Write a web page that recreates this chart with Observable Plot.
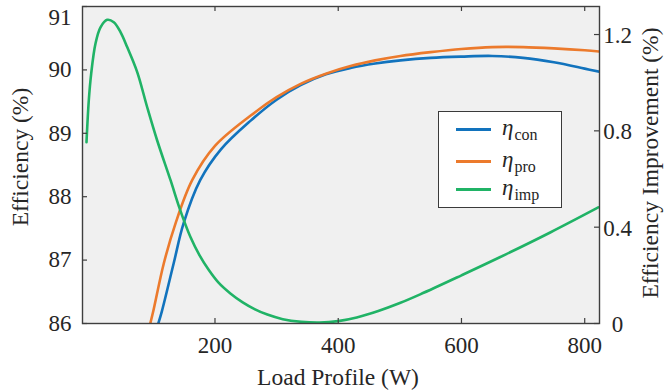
<!DOCTYPE html>
<html>
<head>
<meta charset="utf-8">
<script src="https://cdn.jsdelivr.net/npm/d3@7"></script>
<script src="https://cdn.jsdelivr.net/npm/@observablehq/plot@0.6"></script>
<style>
  html, body { margin: 0; padding: 0; background: #fff; }
  #chart { position: relative; width: 667px; height: 392px; font-family: "Liberation Serif", "Times New Roman", serif; color: #262626; }
  #chart svg { display: block; }
  .legend { position: absolute; left: 438px; top: 111px; width: 122px; height: 95px; background: #fff; border: 1.3px solid #3a3a3a; }
  .legend .row { position: absolute; left: 0; height: 30px; width: 122px; }
  .legend .sw { position: absolute; left: 17px; width: 35px; height: 2.6px; }
  .legend .lab { position: absolute; left: 63px; font-size: 23px; line-height: 1; white-space: nowrap; }
  .legend .lab i { font-style: italic; }
  .legend .lab sub { font-size: 16px; vertical-align: -5px; margin-left: 1px; }
</style>
</head>
<body>
<div id="chart"></div>
<script>
// Load profile sweep (W) and efficiencies (%) for the conventional and proposed designs
const loadCon = [108, 114, 133, 149, 176, 210, 258, 300, 339, 380, 420, 460, 501, 550, 600, 650, 700, 750, 800, 824];
const effCon  = [86.0, 86.2, 86.95, 87.58, 88.26, 88.75, 89.2, 89.53, 89.76, 89.93, 90.03, 90.1, 90.15, 90.19, 90.21, 90.22, 90.19, 90.12, 90.02, 89.97];

const loadPro = [95, 100, 117, 136, 163, 200, 258, 300, 339, 380, 420, 460, 501, 550, 600, 650, 700, 750, 800, 824];
const effPro  = [86.0, 86.2, 86.95, 87.58, 88.26, 88.8, 89.28, 89.57, 89.78, 89.94, 90.06, 90.15, 90.22, 90.28, 90.33, 90.36, 90.36, 90.34, 90.31, 90.29];

// Efficiency improvement (percentage points), read against the right-hand axis
const loadImp = [-8.5, -4.8, -0.9, 6.1, 14.2, 25.1, 35.8, 46.7, 57.5, 73.8, 90, 106.2, 128, 143, 160, 175, 190, 205, 225, 245, 265, 285, 310, 340, 370, 400, 430, 465, 500, 533, 600, 663, 744, 822];
const effImp  = [0.753, 0.926, 1.038, 1.163, 1.23, 1.261, 1.251, 1.21, 1.148, 1.044, 0.898, 0.76, 0.594, 0.475, 0.36, 0.283, 0.222, 0.172, 0.125, 0.088, 0.059, 0.037, 0.018, 0.007, 0.004, 0.01, 0.025, 0.052, 0.085, 0.121, 0.2, 0.276, 0.378, 0.482];

// Axis ticks
const xTicks = [200, 400, 600, 800];
const leftTicks = [86, 87, 88, 89, 90, 91];
const rightTicks = [0, 0.4, 0.8, 1.2];

const seriesNames = ["con", "pro", "imp"];
const seriesColors = ["#1273bd", "#ec7a2c", "#20b366"];

// Left and right y ranges share one vertical scale
const leftMin = 86, leftMax = 91, rightMax = 1.3164;
const toLeft = r => leftMin + r * (leftMax - leftMin) / rightMax;
const fromLeft = v => (v - leftMin) * rightMax / (leftMax - leftMin);

const con = loadCon.map((w, i) => ({w, v: effCon[i]}));
const pro = loadPro.map((w, i) => ({w, v: effPro[i]}));
const imp = loadImp.map((w, i) => ({w, v: toLeft(effImp[i])}));

const W = 667, H = 392, mL = 82, mR = 68, mT = 6, mB = 69;
const innerW = W - mL - mR, innerH = H - mT - mB;
const tickLen = 5;
const axisColor = "#3f3f3f";
const font = "'Liberation Serif', 'Times New Roman', serif";

const chart = Plot.plot({
  width: W,
  height: H,
  marginLeft: mL,
  marginRight: mR,
  marginTop: mT,
  marginBottom: mB,
  style: { fontFamily: font, fontSize: "23px", color: "#262626", background: "transparent" },
  x: { domain: [-15, 824] },
  y: { domain: [leftMin, leftMax] },
  marks: [
    Plot.frame({ fill: "#f0f0f0" }),
    Plot.line(con, { x: "w", y: "v", stroke: seriesColors[0], strokeWidth: 2.6, curve: "catmull-rom", clip: true }),
    Plot.line(pro, { x: "w", y: "v", stroke: seriesColors[1], strokeWidth: 2.6, curve: "catmull-rom", clip: true }),
    Plot.line(imp, { x: "w", y: "v", stroke: seriesColors[2], strokeWidth: 2.6, curve: "catmull-rom", clip: true }),
    // inward tick marks on all four sides
    Plot.tickX(xTicks, { x: d => d, insetTop: innerH - tickLen, stroke: axisColor, strokeWidth: 1.2 }),
    Plot.tickX(xTicks, { x: d => d, insetBottom: innerH - tickLen, stroke: axisColor, strokeWidth: 1.2 }),
    Plot.tickY(leftTicks, { y: d => d, insetRight: innerW - tickLen, stroke: axisColor, strokeWidth: 1.2 }),
    Plot.tickY(rightTicks.map(toLeft), { y: d => d, insetLeft: innerW - tickLen, stroke: axisColor, strokeWidth: 1.2 }),
    Plot.frame({ stroke: axisColor, strokeWidth: 1.4 }),
    // tick labels
    Plot.axisX({ ticks: xTicks, tickSize: 0, tickPadding: 13, label: null, fontSize: 23 }),
    Plot.axisY({ ticks: leftTicks.slice(0, -1), tickSize: 0, tickPadding: 11, tickFormat: d => String(d), label: null, fontSize: 23 }),
    Plot.axisY({ ticks: leftTicks.slice(-1), tickSize: 0, tickPadding: 11, tickFormat: d => String(d), label: null, fontSize: 23, dy: 11 }),
    Plot.axisY(rightTicks.map(toLeft), { anchor: "right", tickSize: 0, tickPadding: 18, textAnchor: "middle", tickFormat: d => String(+fromLeft(d).toFixed(2)), label: null, fontSize: 23, dy: 1 }),
    // axis titles
    Plot.text(["Load Profile (W)"], { frameAnchor: "bottom", text: d => d, dy: 54, dx: -3, textAnchor: "middle", lineAnchor: "middle", fontSize: 23.5, fill: "#262626" }),
    Plot.text(["Efficiency (%)"], { frameAnchor: "left", text: d => d, dx: -62, dy: -8, rotate: -90, textAnchor: "middle", lineAnchor: "middle", fontSize: 23.5, fill: "#262626" }),
    Plot.text(["Efficiency Improvement (%)"], { frameAnchor: "right", text: d => d, dx: 51, dy: -2, rotate: -90, textAnchor: "middle", lineAnchor: "middle", fontSize: 23.5, fill: "#262626" })
  ]
});

const root = document.getElementById("chart");
root.appendChild(chart);

// Legend box inside the plot area
const legend = document.createElement("div");
legend.className = "legend";
const rowTops = [6, 38, 66];
seriesNames.forEach((name, i) => {
  const row = document.createElement("div");
  row.className = "row";
  row.style.top = rowTops[i] + "px";
  const sw = document.createElement("div");
  sw.className = "sw";
  sw.style.top = "10px";
  sw.style.background = seriesColors[i];
  const lab = document.createElement("div");
  lab.className = "lab";
  lab.style.top = "-2px";
  lab.innerHTML = "<i>η</i><sub>" + name + "</sub>";
  row.appendChild(sw);
  row.appendChild(lab);
  legend.appendChild(row);
});
root.appendChild(legend);
</script>
</body>
</html>
